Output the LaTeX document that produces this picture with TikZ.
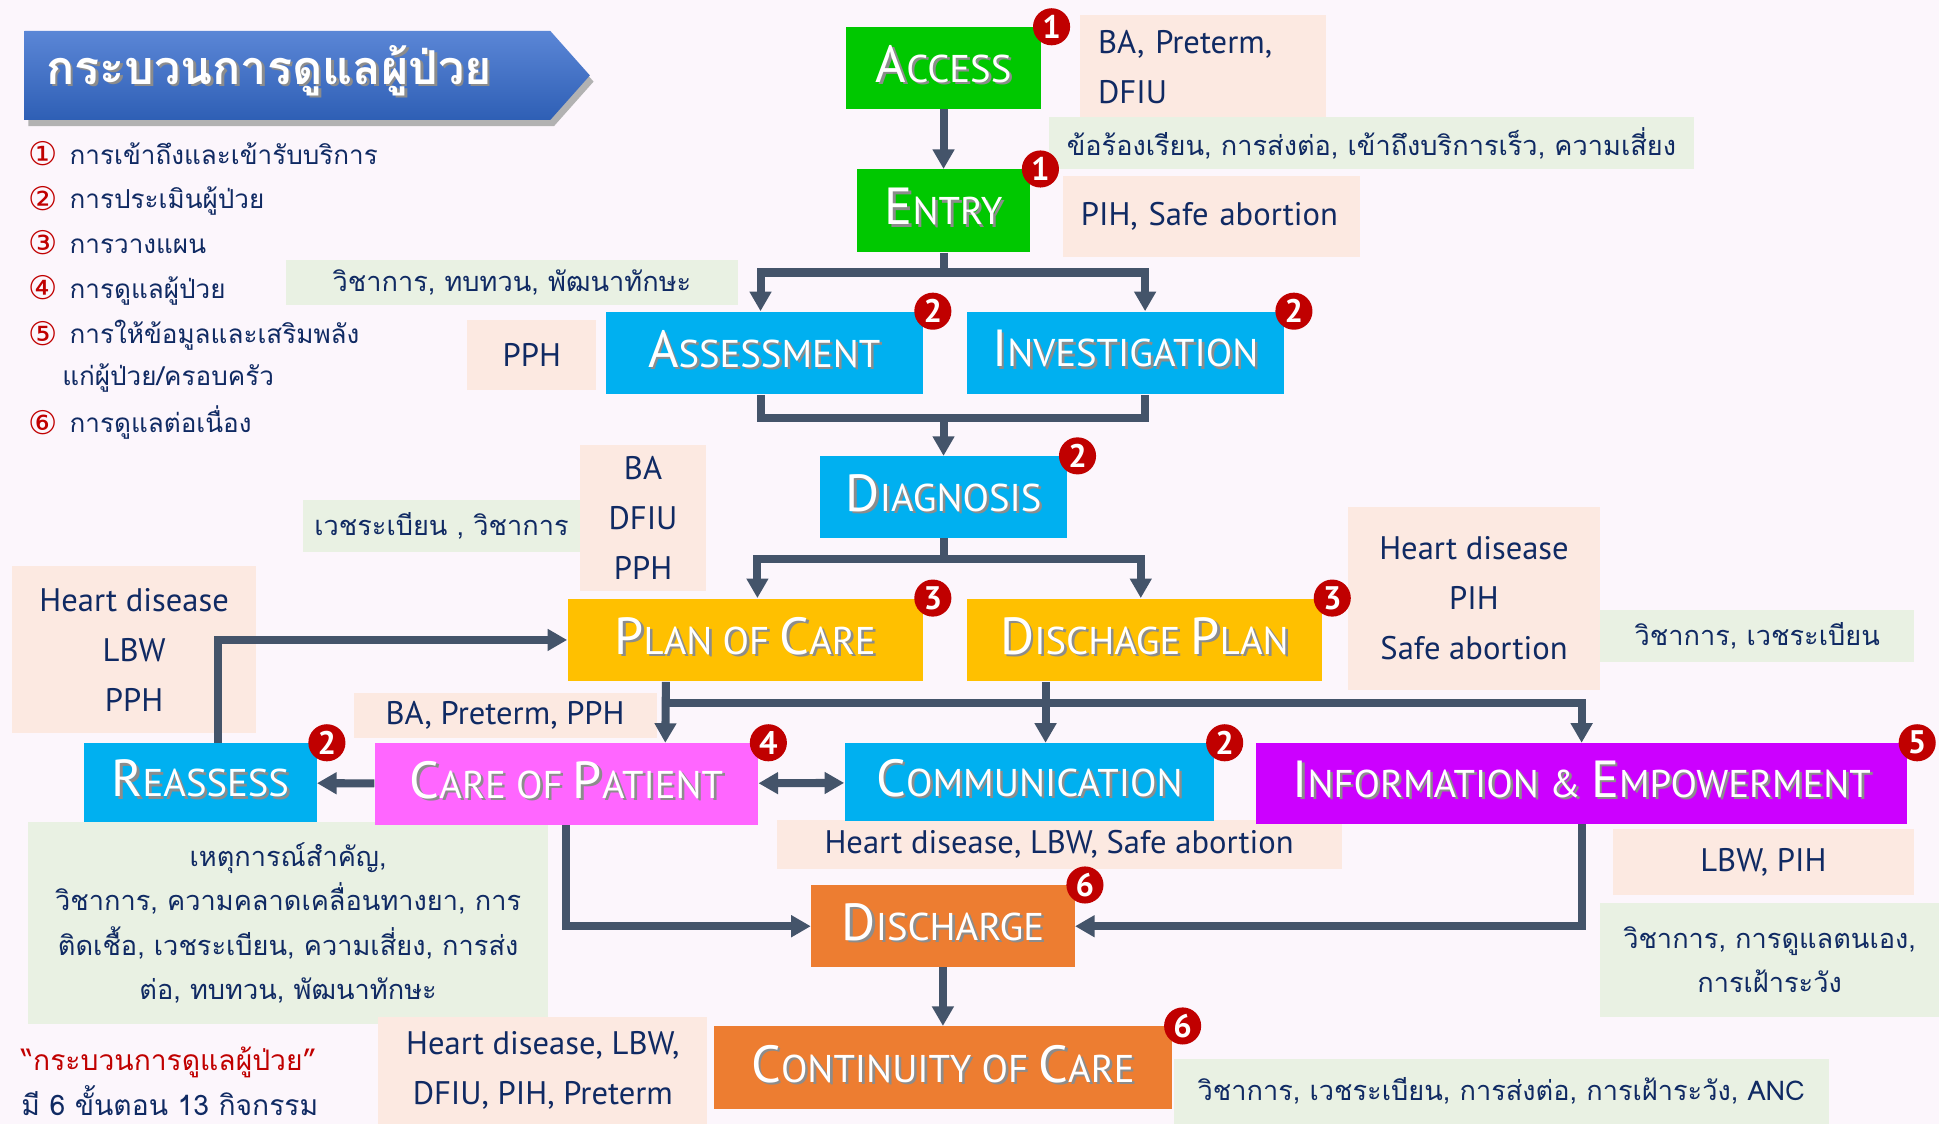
\documentclass[tikz,border=0pt]{standalone}
\usepackage{fontspec}
\setsansfont{PT Sans}
\newfontfamily\thaifont[Script=Thai]{Loma}
\newfontfamily\symfont{DejaVu Sans}
\usetikzlibrary{arrows.meta,calc,positioning}

\definecolor{bgpink}{HTML}{FCF6FC}
\definecolor{slate}{HTML}{44546A}
\definecolor{accgreen}{HTML}{00C800}
\definecolor{sky}{HTML}{00B0F0}
\definecolor{gold}{HTML}{FFC000}
\definecolor{pink}{HTML}{FF66FF}
\definecolor{violet}{HTML}{CC00FF}
\definecolor{orange}{HTML}{ED7D31}
\definecolor{peach}{HTML}{FCE9E1}
\definecolor{mint}{HTML}{E9F1E3}
\definecolor{navy}{HTML}{102A63}
\definecolor{badgered}{HTML}{C00000}
\definecolor{bannertop}{HTML}{5B86D6}
\definecolor{bannerbot}{HTML}{2E5FB5}

\newdimen\pxu \pxu=0.2mm
\newcommand\bigch[1]{{\fontsize{24}{24}\selectfont #1}}
\newcommand\smlch[1]{{\fontsize{17.8}{17.8}\selectfont #1}}
\newcommand\shd[1]{\leavevmode\rlap{\hspace{1.2pt}\raisebox{-1.2pt}{\color{black!45}#1}}#1}
\newcommand\plab[1]{\raisebox{4pt}{\shd{#1}}}
\newcommand\latinbox{\sffamily\fontsize{15}{23}\selectfont}
\newcommand\thaibox{\thaifont\fontsize{12.5}{20.5}\selectfont}

\begin{document}
\begin{tikzpicture}[x=0.2mm, y=-0.2mm,
  >={Triangle[width=9.6pt,length=9pt]},
  every node/.style={inner sep=0pt},
  proc/.style={text=white, font=\sffamily},
  badge/.style={circle, fill=badgered, text=white, minimum size=30\pxu,
    font=\sffamily\bfseries\fontsize{15}{15}\selectfont},
  peachbox/.style={fill=peach, text=navy, font=\latinbox, align=center},
  mintbox/.style={fill=mint, text=navy, font=\thaibox, align=center},
  legnum/.style={text=badgered, font=\symfont\fontsize{15}{15}\selectfont, anchor=base},
  legtext/.style={text=navy, font=\thaifont\fontsize{12}{12}\selectfont, anchor=base west},
  link/.style={draw=slate, line width=3.7pt}]

\fill[bgpink] (0,0) rectangle (1568,909);
\useasboundingbox (0,0) rectangle (1568,909);

% title banner
\fill[black!30] (23,30) -- (448,30) -- (480,66) -- (448,102) -- (23,102) -- cycle;
\shade[top color=bannertop, bottom color=bannerbot]
  (20,25) -- (445,25) -- (477,61) -- (445,97) -- (20,97) -- cycle;
\node[anchor=west, text=white, font=\thaifont\bfseries\fontsize{21.5}{21.5}\selectfont]
  (title) at (37,58) {\shd{กระบวนการดูแลผู้ป่วย}};

% legend
\foreach \i/\k/\y/\t in {1/①/125/การเข้าถึงและเข้ารับบริการ,
    2/②/161/การประเมินผู้ป่วย, 3/③/197/การวางแผน, 4/④/233/การดูแลผู้ป่วย,
    5/⑤/270/การให้ข้อมูลและเสริมพลัง, 6/⑥/342/การดูแลต่อเนื่อง} {
  \node[legnum] (num\i) at (35,\y+9) {\k};
  \node[legtext] (leg\i) at (56,\y+8) {\t};
}
\node[legtext] (leg5b) at (50,312) {แก่ผู้ป่วย/ครอบครัว};

% information boxes
\node[peachbox, minimum width=199\pxu, minimum height=84\pxu, text width=169\pxu, align=left]
  (bapre) at (972.5,54) {BA, Preterm,\\DFIU};
\node[mintbox, minimum width=522\pxu, minimum height=42\pxu]
  (complaint) at (1109,116) {ข้อร้องเรียน, การส่งต่อ, เข้าถึงบริการเร็ว, ความเสี่ยง};
\node[peachbox, minimum width=240\pxu, minimum height=66\pxu, text width=212\pxu, align=left]
  (pihsafe) at (980,175) {PIH, Safe abortion};
\node[mintbox, minimum width=366\pxu, minimum height=37\pxu] (skill) at (414,228.5)
  {วิชาการ, ทบทวน, พัฒนาทักษะ};
\node[peachbox, minimum width=104\pxu, minimum height=56\pxu] (pph) at (430,287) {PPH};
\node[mintbox, minimum width=224\pxu, minimum height=42\pxu] (record) at (357,425)
  {เวชระเบียน , วิชาการ};
\node[peachbox, minimum width=102\pxu, minimum height=118\pxu] (badfiu) at (520,419)
  {BA\\DFIU\\PPH};
\node[peachbox, minimum width=204\pxu, minimum height=148\pxu] (hdpih) at (1192,484)
  {Heart disease\\PIH\\Safe abortion};
\node[mintbox, minimum width=254\pxu, minimum height=42\pxu] (acadrec) at (1421,514)
  {วิชาการ, เวชระเบียน};
\node[peachbox, minimum width=197\pxu, minimum height=135\pxu] (hdlbw) at (108.5,525.5)
  {Heart disease\\LBW\\PPH};
\node[peachbox, minimum width=245\pxu, minimum height=37\pxu] (bapph) at (408.5,578.5)
  {BA, Preterm, PPH};
\node[mintbox, minimum width=420\pxu, minimum height=163\pxu] (events) at (233,746.5)
  {เหตุการณ์สำคัญ,\\วิชาการ, ความคลาดเคลื่อนทางยา, การ\\ติดเชื้อ, เวชระเบียน, ความเสี่ยง, การส่ง\\ต่อ, ทบทวน, พัฒนาทักษะ};
\node[peachbox, minimum width=457\pxu, minimum height=40\pxu] (hdsafe) at (856.5,683)
  {Heart disease, LBW, Safe abortion};
\node[peachbox, minimum width=244\pxu, minimum height=54\pxu] (lbwpih) at (1426,697)
  {LBW, PIH};
\node[mintbox, minimum width=274\pxu, minimum height=92\pxu] (selfcare) at (1431,776)
  {วิชาการ, การดูแลตนเอง,\\การเฝ้าระวัง};
\node[peachbox, minimum width=266\pxu, minimum height=87\pxu] (hddfiu) at (439,865.5)
  {Heart disease, LBW,\\DFIU, PIH, Preterm};
\node[mintbox, minimum width=530\pxu, minimum height=53\pxu] (ancbox) at (1214,882.5)
  {วิชาการ, เวชระเบียน, การส่งต่อ, การเฝ้าระวัง, ANC};

% process steps
\node[proc, fill=accgreen, minimum width=158\pxu, minimum height=66\pxu] (access) at (763,55)
  {\plab{\bigch{A}\smlch{CCESS}}};
\node[proc, fill=accgreen, minimum width=140\pxu, minimum height=67\pxu] (entry) at (763,170.5)
  {\plab{\bigch{E}\smlch{NTRY}}};
\node[proc, fill=sky, minimum width=256\pxu, minimum height=67\pxu] (assess) at (618,285.5)
  {\plab{\bigch{A}\smlch{SSESSMENT}}};
\node[proc, fill=sky, minimum width=256\pxu, minimum height=67\pxu] (inv) at (910,285.5)
  {\plab{\bigch{I}\smlch{NVESTIGATION}}};
\node[proc, fill=sky, minimum width=200\pxu, minimum height=66\pxu] (diag) at (763,402)
  {\plab{\bigch{D}\smlch{IAGNOSIS}}};
\node[proc, fill=gold, minimum width=287\pxu, minimum height=67\pxu] (plan) at (602.5,517.5)
  {\plab{\bigch{P}\smlch{LAN OF }\bigch{C}\smlch{ARE}}};
\node[proc, fill=gold, minimum width=287\pxu, minimum height=67\pxu] (dplan) at (925.5,517.5)
  {\plab{\bigch{D}\smlch{ISCHAGE }\bigch{P}\smlch{LAN}}};
\node[proc, fill=sky, minimum width=188\pxu, minimum height=64\pxu] (reassess) at (162,633)
  {\plab{\bigch{R}\smlch{EASSESS}}};
\node[proc, fill=pink, minimum width=310\pxu, minimum height=66\pxu] (care) at (458,634)
  {\plab{\bigch{C}\smlch{ARE OF }\bigch{P}\smlch{ATIENT}}};
\node[proc, fill=sky, minimum width=299\pxu, minimum height=63\pxu] (comm) at (832.5,632.5)
  {\plab{\bigch{C}\smlch{OMMUNICATION}}};
\node[proc, fill=violet, minimum width=526\pxu, minimum height=65\pxu] (info) at (1279,633.5)
  {\plab{\bigch{I}\smlch{NFORMATION \& }\bigch{E}\smlch{MPOWERMENT}}};
\node[proc, fill=orange, minimum width=213\pxu, minimum height=66\pxu] (dis) at (762.5,749)
  {\plab{\bigch{D}\smlch{ISCHARGE}}};
\node[proc, fill=orange, minimum width=371\pxu, minimum height=67\pxu] (cont) at (762.5,863.5)
  {\plab{\bigch{C}\smlch{ONTINUITY OF }\bigch{C}\smlch{ARE}}};

\foreach \n/\k in {access/1, entry/1, assess/2, inv/2, diag/2, plan/3, dplan/3,
    reassess/2, care/4, comm/2, info/5, dis/6, cont/6} {
  \node[badge] (b-\n) at ($(\n.north east)+(8,0)$) {\k};
}

% connectors
\draw[link,->] (access) -- (entry);
\coordinate (j1) at ($(entry.south)+(0,16)$);
\draw[link] (entry) -- (j1);
\draw[link,->] (j1) -| ($(assess.north)+(-3,0)$);
\draw[link,->] (j1) -| ($(inv.north)+(16,0)$);

\coordinate (j2) at ($(assess.south)+(-3,19)$);
\draw[link] ($(assess.south)+(-3,0)$) -- (j2) -| ($(inv.south)+(16,0)$);
\draw[link,->] (diag.north |- j2) -- (diag);

\coordinate (j3) at ($(diag.south)+(0,17)$);
\draw[link] (diag) -- (j3);
\draw[link,->] (j3) -| ($(plan.north)+(10,0)$);
\draw[link,->] (j3) -| ($(dplan.north)+(-3,0)$);

\coordinate (j4) at ($(plan.south)+(-64,17)$);
\draw[link,->] ($(plan.south)+(-64,0)$) -- ($(care.north)+(80,0)$);
\draw[link,->] (j4) -| (info.north);
\draw[link,->] ($(dplan.south)+(-80,0)$) -- ($(comm.north)+(13,0)$);

\draw[link,->] (care) -- (reassess);
\draw[link,<->] (care) -- (comm);
\draw[link,->] ($(reassess.north)+(14,0)$) |- (plan.west);
\draw[link,->] (care.south) |- (dis.west);
\draw[link,->] (info.south) |- (dis.east);
\draw[link,->] (dis) -- (cont);

% footer
\node[anchor=base west, text=badgered, font=\thaifont\fontsize{13}{13}\selectfont]
  (quote) at (17,866) {“กระบวนการดูแลผู้ป่วย”};
\node[anchor=base west, text=navy, font=\thaifont\fontsize{13}{13}\selectfont]
  (steps) at (17,902) {มี 6 ขั้นตอน 13 กิจกรรม};
\end{tikzpicture}
\end{document}
